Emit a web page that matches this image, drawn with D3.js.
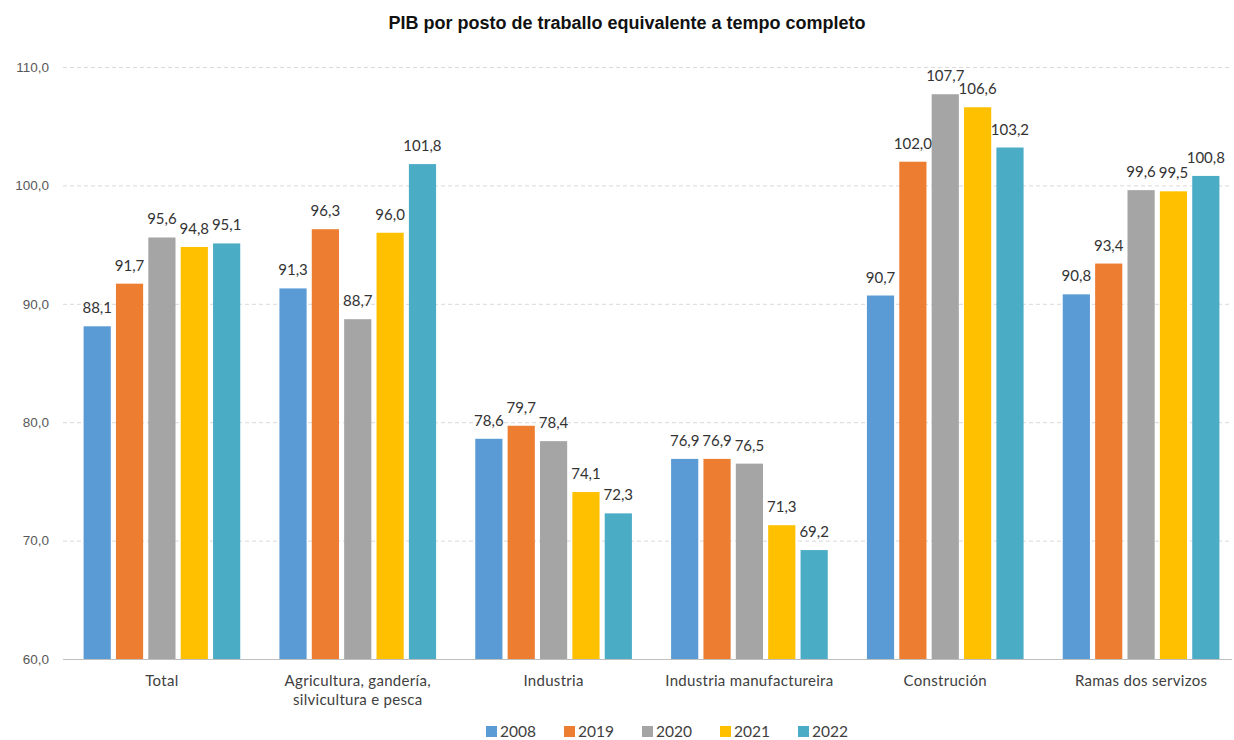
<!DOCTYPE html>
<html>
<head>
<meta charset="utf-8">
<script src="https://cdn.jsdelivr.net/npm/d3@7"></script>
<style>
  body { margin: 0; background: #fff; }
  svg text { font-family: Lato, "Open Sans", sans-serif; }
</style>
</head>
<body>
<div id="chart-area"></div>
<script>
// Data
var categories = ["Total", "Agricultura, gandería, silvicultura e pesca", "Industria",
    "Industria manufactureira", "Construción", "Ramas dos servizos"];
var categoryLines = [["Total"], ["Agricultura, gandería,", "silvicultura e pesca"], ["Industria"],
    ["Industria manufactureira"], ["Construción"], ["Ramas dos servizos"]];
var years = ["2008", "2019", "2020", "2021", "2022"];
var v2008 = [88.1, 91.3, 78.6, 76.9, 90.7, 90.8];
var v2019 = [91.7, 96.3, 79.7, 76.9, 102.0, 93.4];
var v2020 = [95.6, 88.7, 78.4, 76.5, 107.7, 99.6];
var v2021 = [94.8, 96.0, 74.1, 71.3, 106.6, 99.5];
var v2022 = [95.1, 101.8, 72.3, 69.2, 103.2, 100.8];
var yTicks = [60, 70, 80, 90, 100, 110];
var colors = ["#5B9BD5", "#ED7D31", "#A5A5A5", "#FFC000", "#4BACC6"];

var series = [v2008, v2019, v2020, v2021, v2022];

var width = 1234, height = 740;
var svg = d3.select("#chart-area")
    .append("svg")
        .attr("width", width)
        .attr("height", height);

// Scales
var x0 = d3.scaleBand()
    .domain(categories)
    .range([64, 1239])
    .paddingInner(0.2)
    .paddingOuter(0.1);
var x1 = d3.scaleBand()
    .domain(years)
    .range([0, x0.bandwidth()])
    .paddingInner(0.16);
var y = d3.scaleLinear()
    .domain([60, 110])
    .range([659, 67]);
var color = d3.scaleOrdinal().domain(years).range(colors);

var fmt = function(d){ return d3.format(".1f")(d).replace(".", ","); };

// Title
svg.append("text")
    .attr("x", 627)
    .attr("y", 29)
    .attr("text-anchor", "middle")
    .style("font-family", "'Liberation Sans', Arial, sans-serif")
    .style("font-weight", "bold")
    .style("font-size", "18px")
    .attr("fill", "#111")
    .text("PIB por posto de traballo equivalente a tempo completo");

// Gridlines + y labels
var yAxis = svg.append("g")
    .attr("transform", "translate(63,0)")
    .call(d3.axisLeft(y)
        .tickValues(yTicks)
        .tickSize(-(1232 - 63))
        .tickPadding(14)
        .tickFormat(fmt));
yAxis.select(".domain").remove();
yAxis.selectAll(".tick line")
    .attr("stroke-dasharray", function(d){ return d === 60 ? null : "4,3"; })
    .attr("stroke", function(d){ return d === 60 ? "#bfbfbf" : "#d9d9d9"; });
yAxis.selectAll(".tick text")
    .style("font-family", "'Liberation Sans', Arial, sans-serif")
    .style("font-size", "13.5px")
    .attr("fill", "#595959");

// Bars
var rows = categories.map(function(c, i){
    return { cat: c, vals: years.map(function(yr, j){ return { year: yr, value: series[j][i] }; }) };
});

var groups = svg.selectAll("g.group")
    .data(rows)
    .enter().append("g")
        .attr("class", "group")
        .attr("transform", function(d){ return "translate(" + x0(d.cat) + ",0)"; });

groups.selectAll("rect")
    .data(function(d){ return d.vals; })
    .enter().append("rect")
        .attr("x", function(d){ return x1(d.year); })
        .attr("y", function(d){ return y(d.value); })
        .attr("width", x1.bandwidth())
        .attr("height", function(d){ return y(60) - y(d.value); })
        .attr("fill", function(d){ return color(d.year); });

groups.selectAll("text.val")
    .data(function(d){ return d.vals; })
    .enter().append("text")
        .attr("class", "val")
        .attr("x", function(d){ return x1(d.year) + x1.bandwidth() / 2; })
        .attr("y", function(d){ return y(d.value) - 13; })
        .attr("text-anchor", "middle")
        .style("font-size", "15px")
        .attr("fill", "#333")
        .text(function(d){ return fmt(d.value); });

// Category labels
categoryLines.forEach(function(lines, i){
    var t = svg.append("text")
        .attr("x", x0(categories[i]) + x0.bandwidth() / 2)
        .attr("y", 686)
        .attr("text-anchor", "middle")
        .style("font-size", "15px")
        .style("letter-spacing", "0.3px")
        .attr("fill", "#404040");
    lines.forEach(function(l, k){
        t.append("tspan")
            .attr("x", x0(categories[i]) + x0.bandwidth() / 2)
            .attr("dy", k === 0 ? 0 : 19)
            .text(l);
    });
});

// Legend
var legend = svg.append("g")
    .attr("transform", "translate(486,726)");
years.forEach(function(yr, i){
    var row = legend.append("g")
        .attr("transform", "translate(" + (i * 78) + ",0)");
    row.append("rect")
        .attr("width", 11)
        .attr("height", 11)
        .attr("fill", color(yr));
    row.append("text")
        .attr("x", 14)
        .attr("y", 11)
        .style("font-size", "15.5px")
        .attr("fill", "#404040")
        .text(yr);
});
</script>
</body>
</html>
